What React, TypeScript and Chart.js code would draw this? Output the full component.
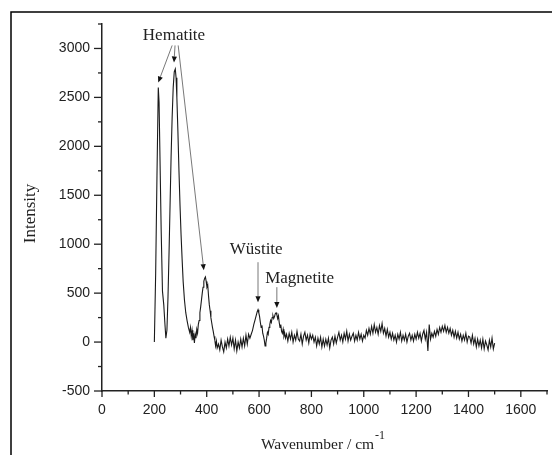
import React, { useEffect, useRef } from 'react';
import { Chart, registerables } from 'chart.js';

Chart.register(...registerables);

// Raman spectrum: wavenumber (cm^-1) and intensity
const wavenumbers: number[] = [
  200, 205, 210, 215, 218, 222, 226, 231, 236, 240,
  244, 248, 252, 256, 260, 264, 268, 272, 276, 280,
  283, 286, 290, 294, 298, 302, 306, 310, 315, 320,
  325, 330, 335, 338, 341, 344, 347, 350, 353, 356,
  359, 362, 365, 368, 371, 374, 377, 380, 383, 386,
  389, 392, 395, 398, 401, 404, 407, 410, 413, 416,
  419, 422, 425, 428, 431, 434, 437, 440,
  445, 450, 455, 460, 465, 470, 475, 480, 485, 490,
  495, 500, 505, 510, 515, 520, 525, 530, 535, 540,
  545, 550, 555, 560, 565,
  570, 575, 580, 585, 590, 593, 596, 599, 602, 605,
  608, 611, 614, 617, 620, 623, 626, 629, 632, 635,
  638, 641, 644, 647, 650, 653, 656, 659, 662, 665,
  668, 671, 674, 677, 680, 683, 686, 689, 692, 695,
  698, 701,
  705, 710, 715, 720, 725, 730, 735, 740, 745, 750,
  755, 760, 765, 770, 775, 780, 785, 790, 795, 800,
  805, 810, 815, 820, 825, 830, 835, 840, 845, 850,
  855, 860, 865, 870, 875, 880, 885, 890, 895, 900,
  905, 910, 915, 920, 925, 930, 935, 940, 945, 950,
  955, 960, 965, 970, 975, 980, 985, 990, 995, 1000,
  1005, 1010, 1015, 1020, 1025, 1030, 1035, 1040, 1045, 1050,
  1055, 1060, 1065, 1070, 1075, 1080, 1085, 1090, 1095, 1100,
  1105, 1110, 1115, 1120, 1125, 1130, 1135, 1140, 1145, 1150,
  1155, 1160, 1165, 1170, 1175, 1180, 1185, 1190, 1195, 1200,
  1205, 1210, 1215, 1220, 1225, 1230, 1235, 1240, 1245, 1250,
  1255, 1260, 1265, 1270, 1275, 1280, 1285, 1290, 1295, 1300,
  1305, 1310, 1315, 1320, 1325, 1330, 1335, 1340, 1345, 1350,
  1355, 1360, 1365, 1370, 1375, 1380, 1385, 1390, 1395, 1400,
  1405, 1410, 1415, 1420, 1425, 1430, 1435, 1440, 1445, 1450,
  1455, 1460, 1465, 1470, 1475, 1480, 1485, 1490, 1495, 1500,
];

const intensity: number[] = [
  0, 700, 1700, 2600, 2450, 1800, 1150, 520, 380, 200,
  40, 120, 450, 900, 1400, 1900, 2300, 2600, 2760, 2790,
  2700, 2500, 2150, 1750, 1400, 1100, 850, 620, 430, 300,
  220, 150, 100, 150, 60, 120, 20, 90, -10, 80,
  40, 130, 90, 180, 220, 300, 360, 430, 500, 560,
  620, 650, 665, 620, 560, 580, 470, 380, 320, 250,
  200, 150, 110, 60, 20, -40, 10, -60,
  -20, -80, 20, -50, -100, 0, -60, 30, -40, 50,
  -30, 40, -70, 20, -90, 0, -60, 30, -50, 40,
  -40, 70, -20, 80, 40,
  80, 120, 180, 230, 280, 310, 330, 300, 260, 200,
  150, 170, 90, 60, 20, -40, -10, 40, 100, 80,
  150, 180, 220, 200, 250, 270, 240, 260, 290, 300,
  280, 240, 270, 200, 150, 180, 110, 90, 130, 60,
  90, 40,
  80, 10, 90, 30, 100, 0, 70, 20, 110, 30,
  10, 80, -20, 60, 100, 20, 70, -10, 80, 30,
  70, 0, 50, -40, 40, -20, 50, -50, 30, -40,
  30, -30, 40, -60, 20, 50, -20, 60, -10, 50,
  100, 20, 70, 0, 90, 30, 110, 10, 80, 20,
  60, 90, 10, 70, 20, 100, 30, 80, 10, 70,
  40, 120, 70, 140, 80, 160, 90, 180, 100, 150,
  80, 170, 110, 190, 90, 140, 60, 130, 50, 100,
  30, 90, 20, 70, 0, 80, 30, 100, 10, 70,
  20, 80, 0, 60, 90, 20, 70, 10, 80, 30,
  100, 40, 90, 10, 80, 120, 30, 100, -90, 180,
  30, 90, 50, 110, 60, 130, 80, 150, 100, 160,
  110, 170, 100, 150, 90, 140, 70, 120, 50, 110,
  40, 100, 30, 80, 10, 70, 20, 90, 0, 60,
  50, -10, 70, -20, 40, -50, 30, -40, 20, -60,
  30, -70, 10, -30, -80, 20, -50, 40, -70, -10,
];

// axis settings
const X_MIN = 0;
const X_MAX = 1700;
const X_STEP = 100;
const X_LABEL_STEP = 200;
const Y_MIN = -500;
const Y_MAX = 3250;
const Y_STEP = 250;
const Y_LABEL_STEP = 500;

// annotation labels (data coordinates)
const labelTexts = ['Hematite', 'Wüstite', 'Magnetite'];
const labelX = [275, 589, 755];
const labelY = [3133, 949, 653];

// arrows: start (x,y) -> end (x,y) in data coordinates
const arrowX1 = [268, 279, 291, 596, 668];
const arrowY1 = [3031, 3031, 3031, 816, 561];
const arrowX2 = [215, 275, 389, 596, 668];
const arrowY2 = [2653, 2857, 735, 408, 347];

const SERIF = '"Liberation Serif", "Times New Roman", serif';
const SANS = '"Liberation Sans", Arial, sans-serif';

const decorPlugin = {
  id: 'decor',
  afterDraw(chart: any) {
    const ctx = chart.ctx as CanvasRenderingContext2D;
    const xs = chart.scales.x;
    const ys = chart.scales.y;
    const area = chart.chartArea;
    ctx.save();

    // outer frame of the figure
    ctx.strokeStyle = '#000';
    ctx.lineWidth = 1.5;
    ctx.beginPath();
    ctx.moveTo(11, 455);
    ctx.lineTo(11, 12);
    ctx.lineTo(552, 12);
    ctx.stroke();

    // ticks (major / minor)
    ctx.strokeStyle = '#222';
    ctx.lineWidth = 1.3;
    xs.ticks.forEach((t: any) => {
      const px = xs.getPixelForValue(t.value);
      const major = t.value % X_LABEL_STEP === 0;
      ctx.beginPath();
      ctx.moveTo(px, area.bottom);
      ctx.lineTo(px, area.bottom + (major ? 6 : 3.5));
      ctx.stroke();
    });
    ys.ticks.forEach((t: any) => {
      const py = ys.getPixelForValue(t.value);
      const major = t.value % Y_LABEL_STEP === 0;
      ctx.beginPath();
      ctx.moveTo(area.left, py);
      ctx.lineTo(area.left - (major ? 8 : 4), py);
      ctx.stroke();
    });

    // axis titles
    ctx.fillStyle = '#222';
    ctx.textBaseline = 'middle';
    ctx.textAlign = 'center';
    ctx.save();
    ctx.translate(31, (area.top + area.bottom) / 2 + 6);
    ctx.rotate(-Math.PI / 2);
    ctx.font = `17px ${SERIF}`;
    ctx.fillText('Intensity', 0, 0);
    ctx.restore();

    ctx.font = `15.5px ${SERIF}`;
    const main = 'Wavenumber / cm';
    const w = ctx.measureText(main).width;
    const cx = (area.left + area.right) / 2 - 7;
    ctx.textAlign = 'left';
    ctx.fillText(main, cx - w / 2, 445);
    ctx.font = `12px ${SERIF}`;
    ctx.fillText('-1', cx + w / 2 + 1, 436);

    // arrows
    for (let i = 0; i < arrowX1.length; i++) {
      const x1 = xs.getPixelForValue(arrowX1[i]);
      const y1 = ys.getPixelForValue(arrowY1[i]);
      const x2 = xs.getPixelForValue(arrowX2[i]);
      const y2 = ys.getPixelForValue(arrowY2[i]);
      const ang = Math.atan2(y2 - y1, x2 - x1);
      const hl = 6;
      const hw = 2.6;
      ctx.strokeStyle = '#555';
      ctx.lineWidth = 0.8;
      ctx.beginPath();
      ctx.moveTo(x1, y1);
      ctx.lineTo(x2 - Math.cos(ang) * hl, y2 - Math.sin(ang) * hl);
      ctx.stroke();
      ctx.fillStyle = '#111';
      ctx.beginPath();
      ctx.moveTo(x2, y2);
      ctx.lineTo(x2 - Math.cos(ang) * hl - Math.sin(ang) * hw, y2 - Math.sin(ang) * hl + Math.cos(ang) * hw);
      ctx.lineTo(x2 - Math.cos(ang) * hl + Math.sin(ang) * hw, y2 - Math.sin(ang) * hl - Math.cos(ang) * hw);
      ctx.closePath();
      ctx.fill();
    }

    // annotation labels
    ctx.fillStyle = '#222';
    ctx.font = `17px ${SERIF}`;
    ctx.textAlign = 'center';
    ctx.textBaseline = 'middle';
    for (let i = 0; i < labelTexts.length; i++) {
      ctx.fillText(labelTexts[i], xs.getPixelForValue(labelX[i]), ys.getPixelForValue(labelY[i]));
    }
    ctx.restore();
  },
};

export default function App() {
  const canvasRef = useRef<HTMLCanvasElement | null>(null);

  useEffect(() => {
    document.body.style.margin = '0';
    const canvas = canvasRef.current;
    if (!canvas) return;
    const points = wavenumbers.map((x, i) => ({ x, y: intensity[i] }));
    const chart = new Chart(canvas, {
      type: 'line',
      data: {
        datasets: [
          {
            data: points,
            borderColor: '#1a1a1a',
            borderWidth: 1.1,
            pointRadius: 0,
            tension: 0,
            fill: false,
          },
        ],
      },
      options: {
        animation: false,
        responsive: false,
        devicePixelRatio: 1,
        layout: { padding: { left: 0, right: 0, top: 24, bottom: 0 } },
        plugins: { legend: { display: false }, tooltip: { enabled: false } },
        scales: {
          x: {
            type: 'linear',
            min: X_MIN,
            max: X_MAX,
            afterFit: (s: any) => {
              s.height = 64;
            },
            border: { display: true, color: '#222', width: 1.5 },
            grid: { drawOnChartArea: false, drawTicks: true, tickLength: 6, tickColor: 'rgba(0,0,0,0)' },
            ticks: {
              stepSize: X_STEP,
              autoSkip: false,
              maxRotation: 0,
              padding: 5,
              color: '#222',
              font: { family: SANS, size: 14 },
              callback: (v: any) => (Number(v) % X_LABEL_STEP === 0 && Number(v) < X_MAX ? String(v) : ''),
            },
          },
          y: {
            type: 'linear',
            min: Y_MIN,
            max: Y_MAX,
            afterFit: (s: any) => {
              s.width = 102;
            },
            border: { display: true, color: '#222', width: 1.5 },
            grid: { drawOnChartArea: false, drawTicks: true, tickLength: 8, tickColor: 'rgba(0,0,0,0)' },
            ticks: {
              stepSize: Y_STEP,
              autoSkip: false,
              padding: 4,
              color: '#222',
              font: { family: SANS, size: 14 },
              callback: (v: any) => (Number(v) % Y_LABEL_STEP === 0 ? String(v) : ''),
            },
          },
        },
      },
      plugins: [decorPlugin],
    } as any);
    return () => {
      chart.destroy();
    };
  }, []);

  return (
    <canvas
      ref={canvasRef}
      width={552}
      height={455}
      style={{ display: 'block', width: 552, height: 455 }}
    />
  );
}
